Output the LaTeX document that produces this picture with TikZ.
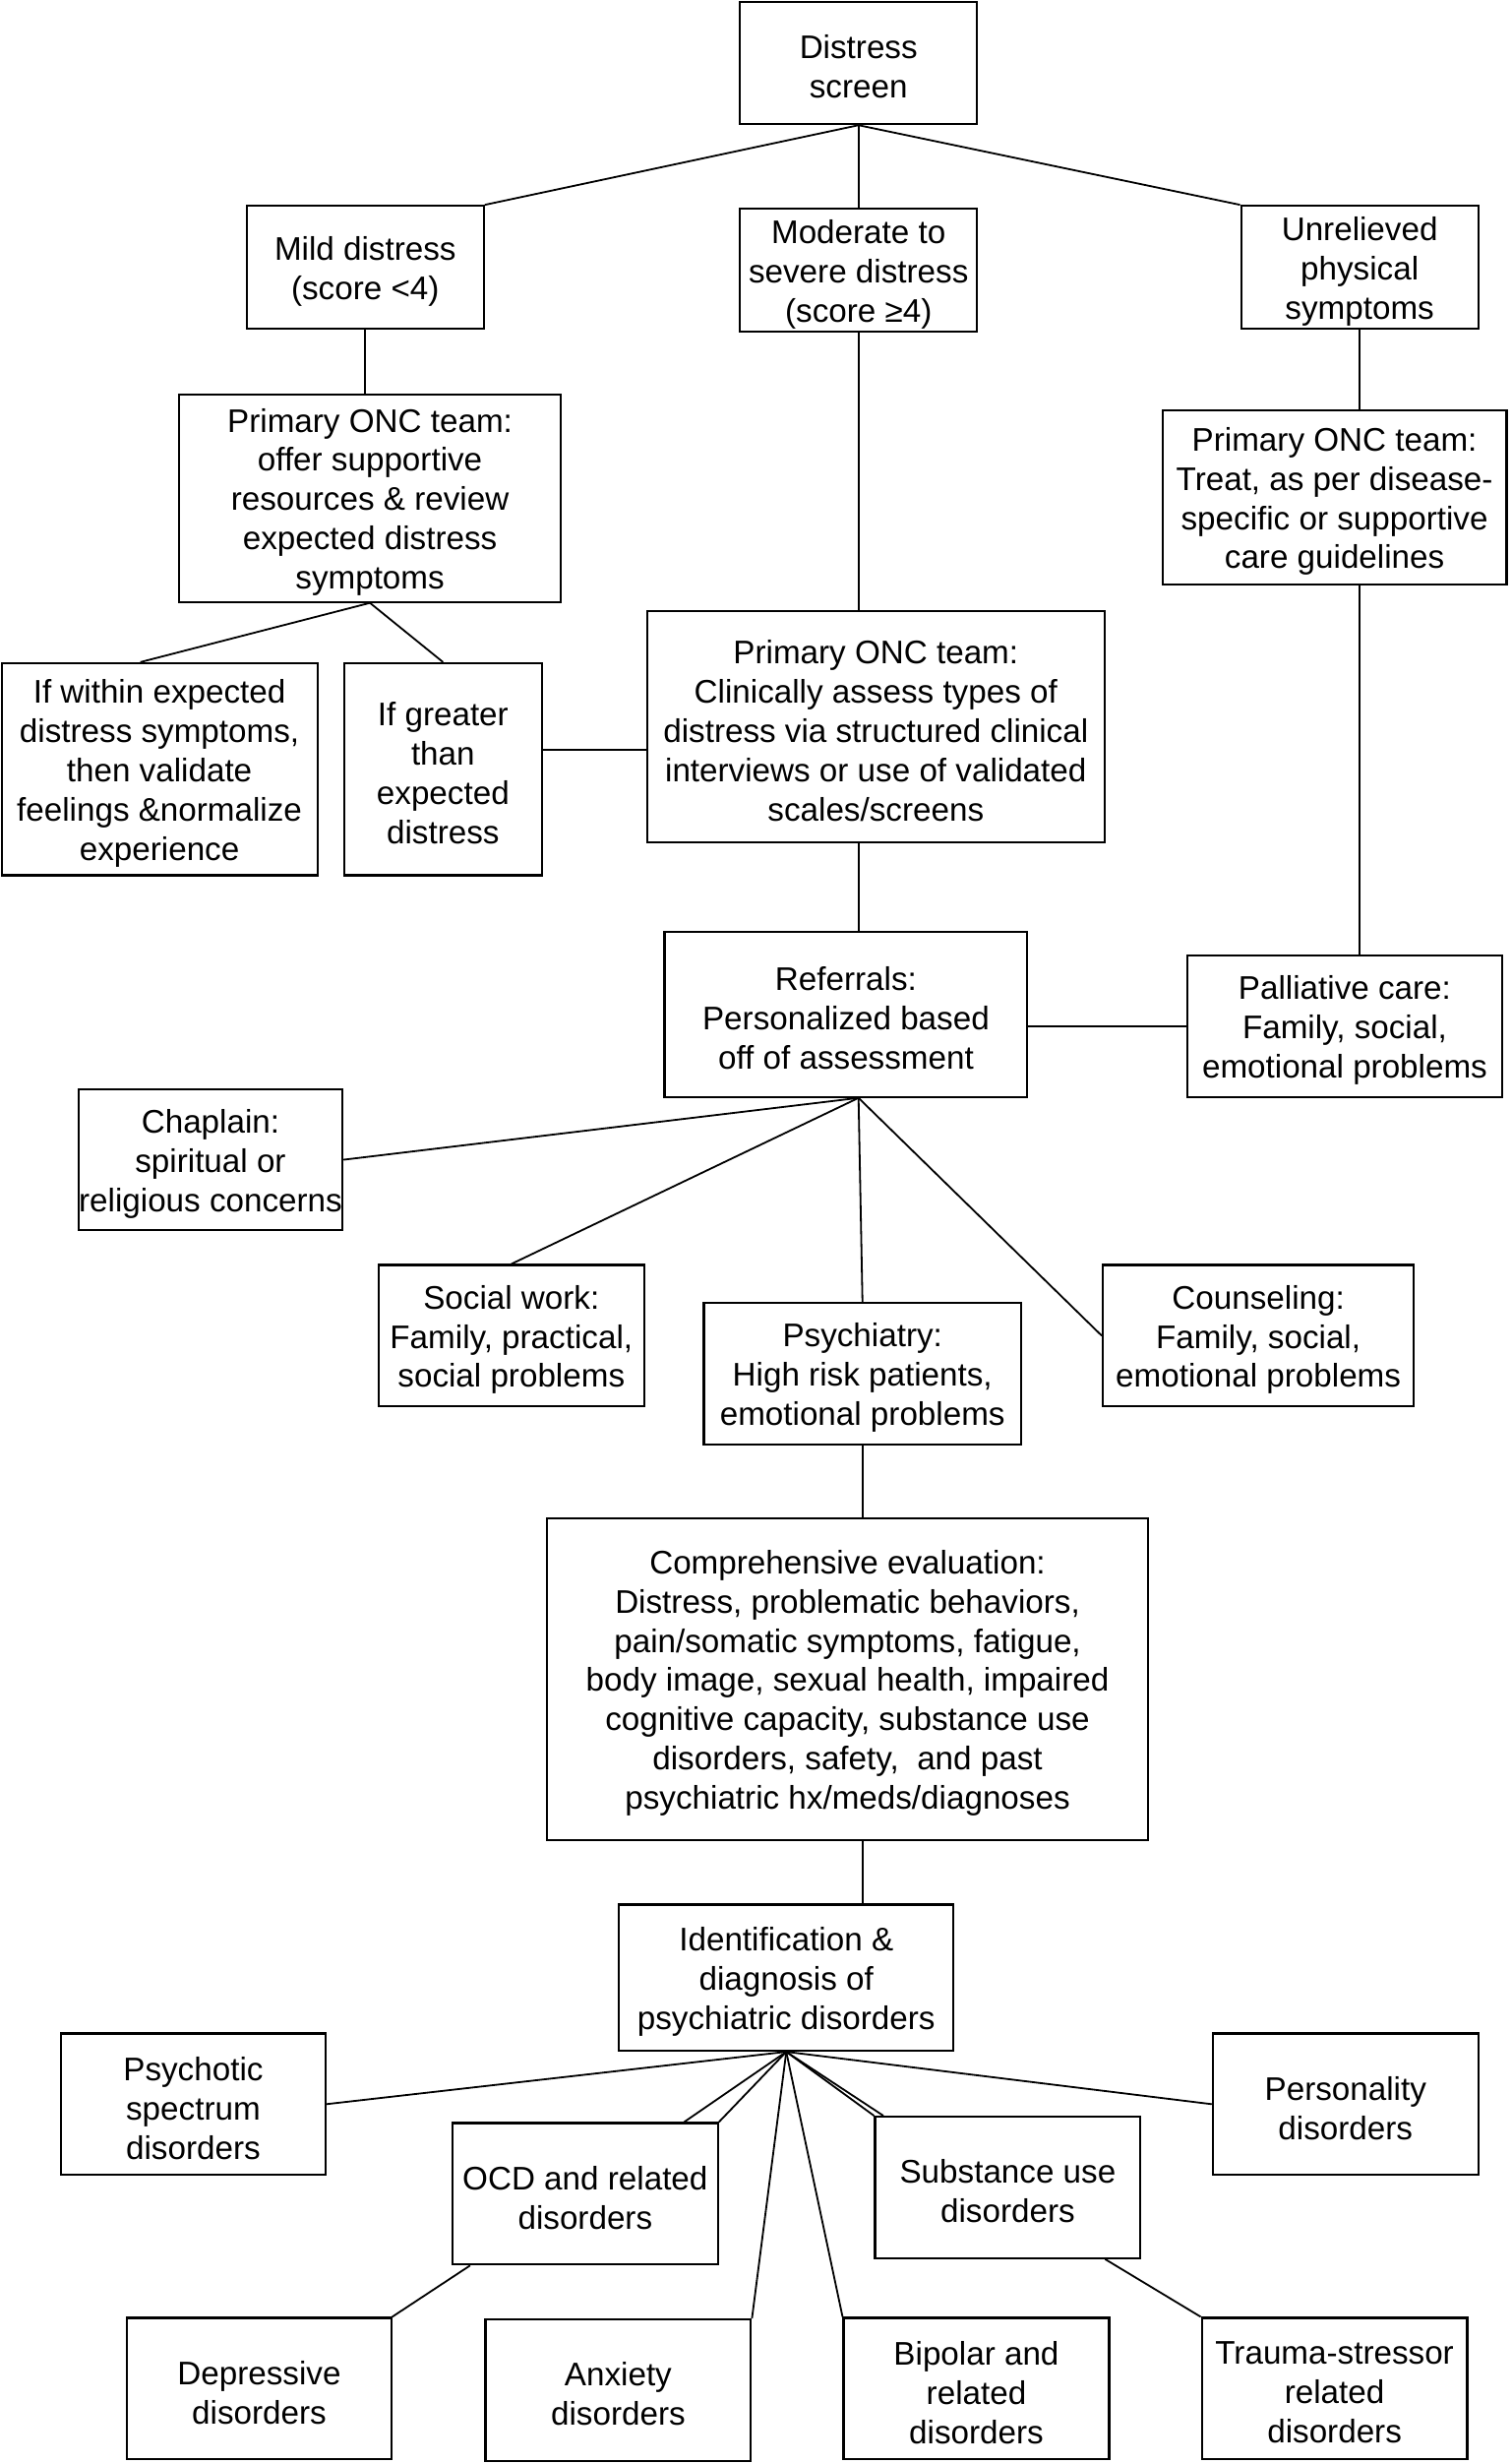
\documentclass[tikz,border=0pt]{standalone}
\usepackage{fontspec}
\setmainfont{Liberation Sans}
\usetikzlibrary{calc}
\newcommand{\bx}[6]{\node[box, minimum width={(#4-#2)*0.75pt}, minimum height={(#5-#3)*0.75pt},
  label={[lbl]center:{#6}}] (#1) at ({(#2+#4)/2},{(#3+#5)/2}) {};}
\tikzset{
  box/.style={draw, line width=1pt, rectangle, inner sep=0pt},
  lbl/.style={inner sep=0pt, align=center, yshift=-1.9pt,
    font=\fontsize{15.6pt}{18.75pt}\selectfont},
  conn/.style={line width=0.85pt}
}
\begin{document}
\begin{tikzpicture}[x=0.75pt,y=-0.75pt]
\useasboundingbox (0,0) rectangle (962,1568);
\fill[white] (0,0) rectangle (962,1568);
% boxes
\bx{dist}{471}{1}{622}{79}{Distress\\screen}
\bx{mild}{157}{131}{308}{209}{Mild distress\\(score <4)}
\bx{mod}{471}{133}{622}{211}{Moderate to\\severe distress\\(score ≥4)}
\bx{unrel}{790}{131}{941}{209}{Unrelieved\\physical\\symptoms}
\bx{pl}{114}{251}{357}{383}{Primary ONC team:\\offer supportive\\resources \& review\\expected distress\\symptoms}
\bx{pr}{740}{261}{959}{372}{Primary ONC team:\\Treat, as per disease-\\specific or supportive\\care guidelines}
\bx{within}{1}{422}{202}{557}{If within expected\\distress symptoms,\\then validate\\feelings \&normalize\\experience}
\bx{greater}{219}{422}{345}{557}{If greater\\than\\expected\\distress}
\bx{conc}{412}{389}{703}{536}{Primary ONC team:\\Clinically assess types of\\distress via structured clinical\\interviews or use of validated\\scales/screens}
\bx{ref}{423}{593}{654}{698}{Referrals:\\Personalized based\\off of assessment}
\bx{pall}{756}{608}{956}{698}{Palliative care:\\Family, social,\\emotional problems}
\bx{chap}{50}{693}{218}{783}{Chaplain:\\spiritual or\\religious concerns}
\bx{social}{241}{805}{410}{895}{Social work:\\Family, practical,\\social problems}
\bx{psych}{448}{829}{650}{919}{Psychiatry:\\High risk patients,\\emotional problems}
\bx{couns}{702}{805}{900}{895}{Counseling:\\Family, social,\\emotional problems}
\bx{comp}{348}{966}{731}{1171}{Comprehensive evaluation:\\Distress, problematic behaviors,\\pain/somatic symptoms, fatigue,\\body image, sexual health, impaired\\cognitive capacity, substance use\\disorders, safety,\ \ and past\\psychiatric hx/meds/diagnoses}
\bx{ident}{394}{1212}{607}{1305}{Identification \&\\diagnosis of\\psychiatric disorders}
\bx{psyc}{39}{1294}{207}{1384}{Psychotic\\spectrum\\disorders}
\bx{ocd}{288}{1351}{457}{1441}{OCD and related\\disorders}
\bx{subs}{557}{1347}{726}{1437}{Substance use\\disorders}
\bx{pers}{772}{1294}{941}{1384}{Personality\\disorders}
\bx{dep}{81}{1475}{249}{1565}{Depressive\\disorders}
\bx{anx}{309}{1476}{478}{1566}{Anxiety\\disorders}
\bx{bip}{537}{1475}{706}{1565}{Bipolar and\\related\\disorders}
\bx{trau}{765}{1475}{934}{1565}{Trauma-stressor\\related\\disorders}
% connectors
\draw[conn] (dist.south) -- (mild.north east);
\draw[conn] (dist.south) -- (mod.north);
\draw[conn] (dist.south) -- (unrel.north west);
\draw[conn] (mild.south) -- (mild.south |- pl.north);
\draw[conn] (mod.south) -- (mod.south |- conc.north);
\draw[conn] (unrel.south) -- (unrel.south |- pr.north);
\draw[conn] (pl.south) -- ($(within.north west)!0.44!(within.north east)$);
\draw[conn] (pl.south) -- (greater.north);
\coordinate (gr) at ($(greater.north east)!0.41!(greater.south east)$);
\draw[conn] (gr) -- (gr -| conc.west);
\draw[conn] (unrel.south |- pr.south) -- (unrel.south |- pall.north);
\draw[conn] (mod.south |- conc.south) -- (mod.south |- ref.north);
\draw[conn] (pall.west -| ref.east) -- (pall.west);
\coordinate (rh) at (mod.south |- ref.south);
\draw[conn] (rh) -- (chap.east);
\draw[conn] (rh) -- (social.north);
\draw[conn] (rh) -- (psych.north);
\draw[conn] (rh) -- (couns.west);
\draw[conn] (psych.south) -- (psych.south |- comp.north);
\draw[conn] (psych.south |- comp.south) -- (psych.south |- ident.north);
\draw[conn] (ident.south) -- (psyc.east);
\draw[conn] (ident.south) -- ($(ocd.north west)!0.87!(ocd.north east)$);
\draw[conn] (ident.south) -- (ocd.north east);
\draw[conn] (ident.south) -- (anx.north east);
\draw[conn] (ident.south) -- (bip.north west);
\draw[conn] (ident.south) -- (subs.north west);
\draw[conn] (ident.south) -- ($(subs.north west)!0.035!(subs.north east)$);
\draw[conn] (ident.south) -- (pers.west);
\draw[conn] ($(ocd.south west)!0.07!(ocd.south east)$) -- (dep.north east);
\draw[conn] ($(subs.south west)!0.864!(subs.south east)$) -- (trau.north west);
\end{tikzpicture}
\end{document}
